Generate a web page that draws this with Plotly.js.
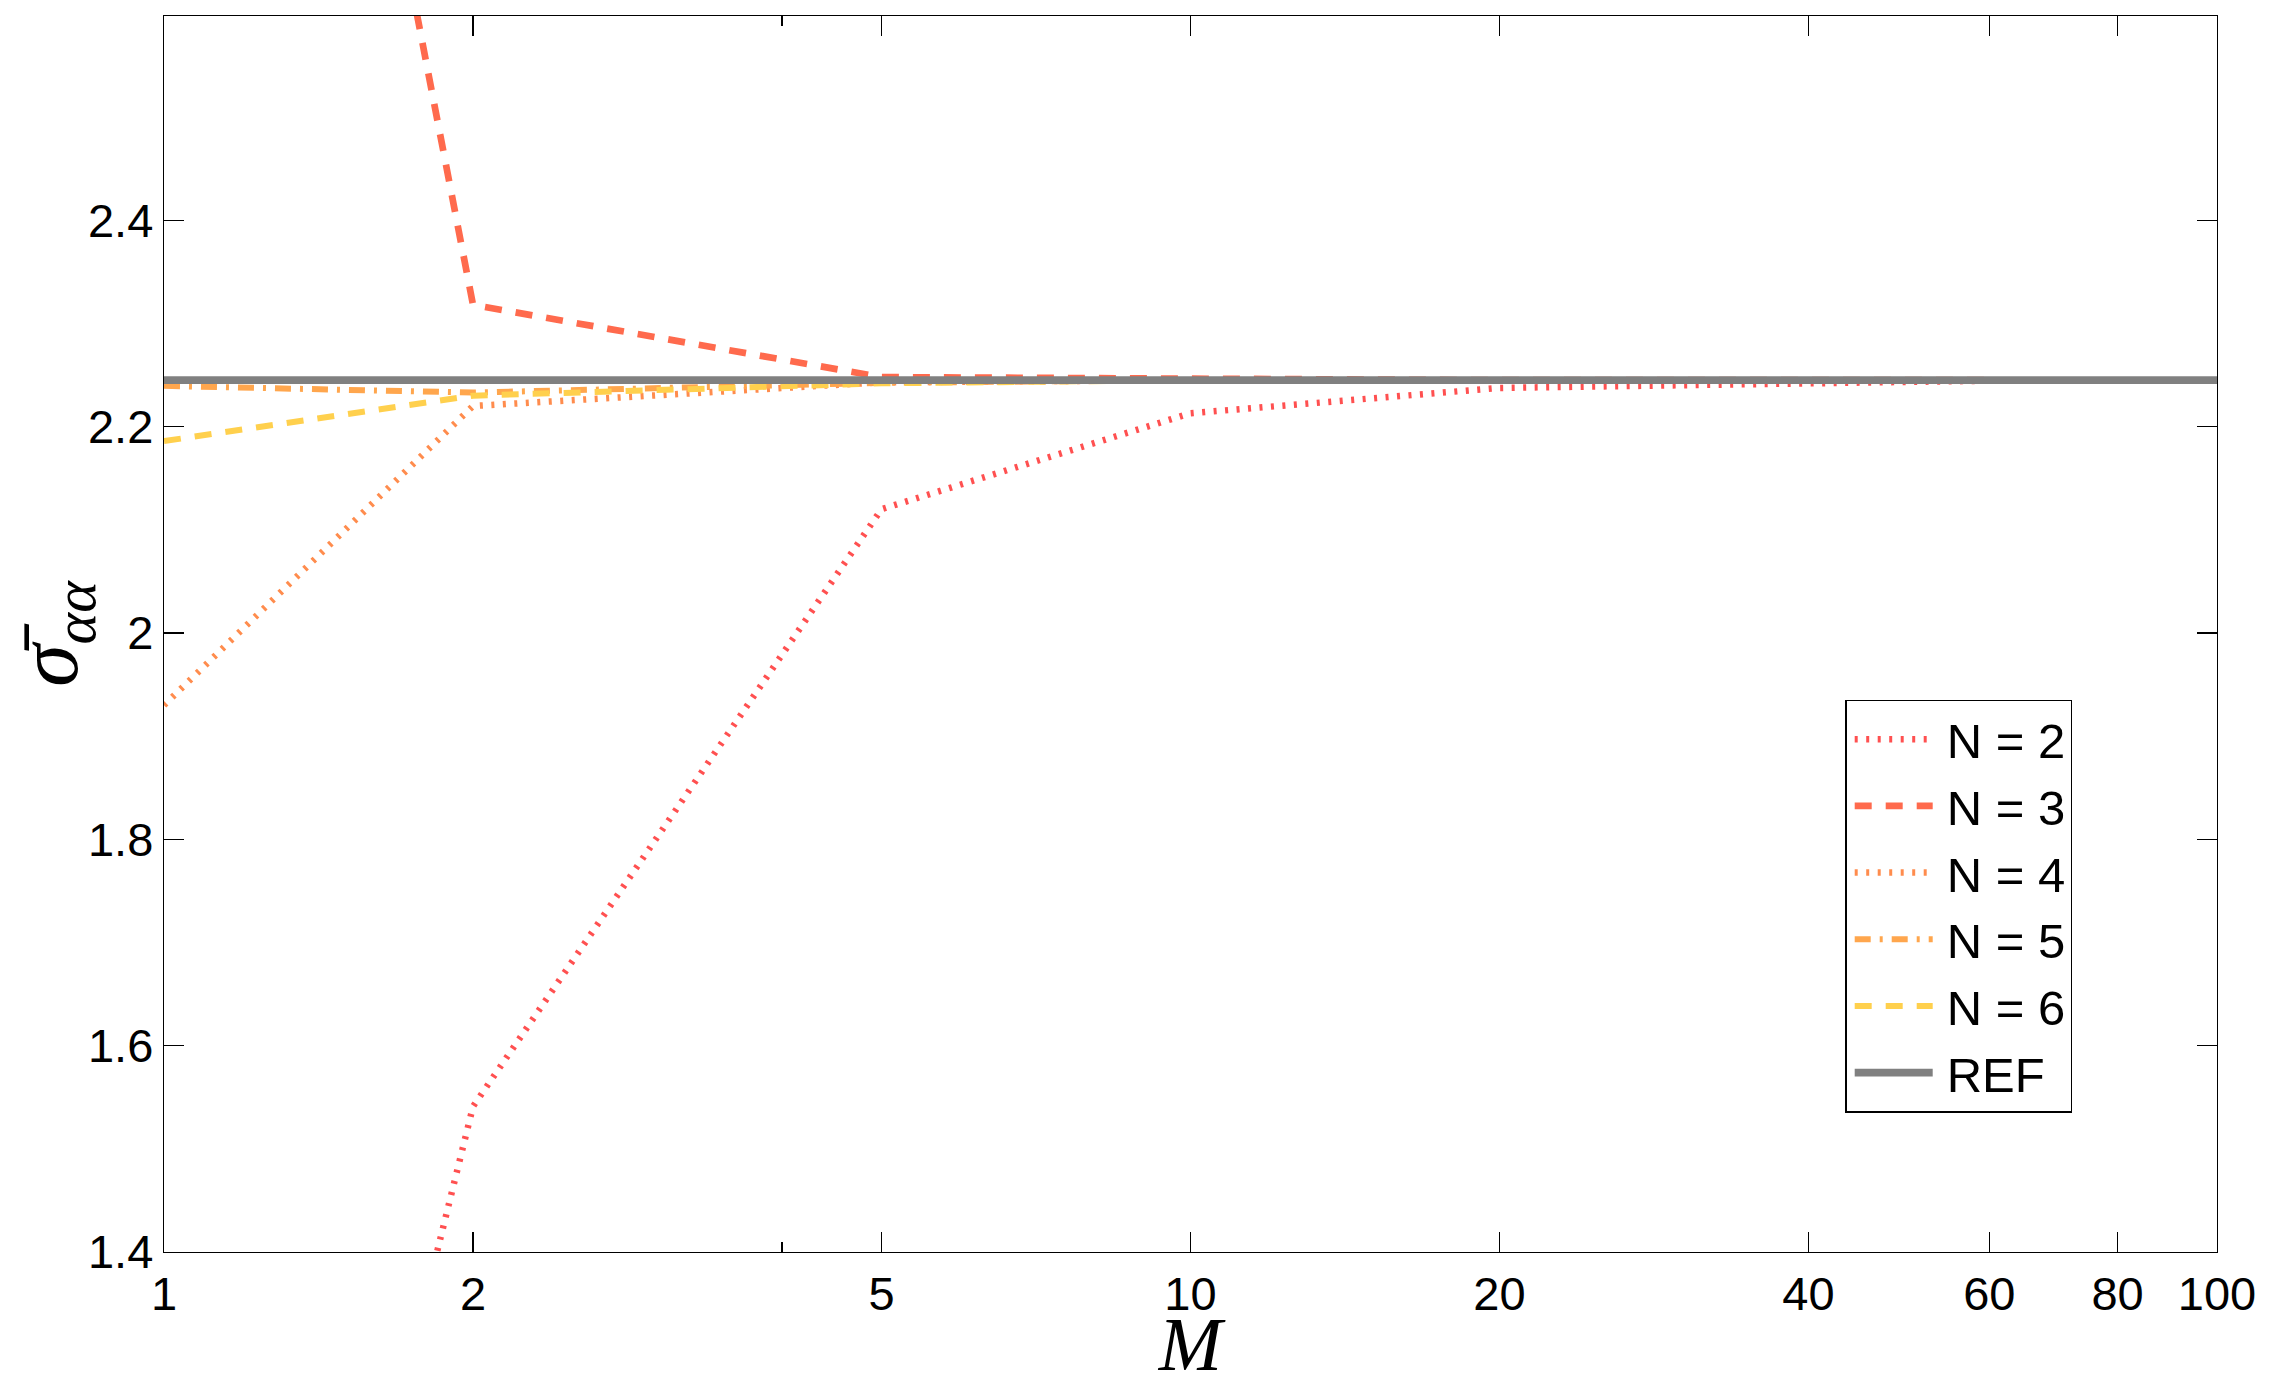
<!DOCTYPE html>
<html>
<head>
<meta charset="utf-8">
<script src="https://cdn.plot.ly/plotly-3.0.1.min.js"></script>
<style>
  html, body { margin: 0; padding: 0; background: #fff; }
  #chart { width: 2280px; height: 1386px; }
</style>
</head>
<body>
<div id="chart"></div>
<script>
// values
var M = [1, 2, 5, 10, 20, 40, 60];
var sigmaN2 = [0.33, 1.541, 2.12, 2.213, 2.2375, 2.2425, 2.2445];
var sigmaN3 = [3.87, 2.318, 2.248, 2.246, 2.245, 2.245, 2.245];
var sigmaN4 = [1.93, 2.22, 2.243, 2.245, 2.245, 2.245, 2.245];
var sigmaN5 = [2.2395, 2.233, 2.2425, 2.245, 2.245, 2.245, 2.245];
var sigmaN6 = [2.186, 2.23, 2.242, 2.245, 2.245, 2.245, 2.245];
var refM = [1, 100];
var refSigma = [2.245, 2.245];

var seriesNames = ['N = 2', 'N = 3', 'N = 4', 'N = 5', 'N = 6'];
var seriesValues = [sigmaN2, sigmaN3, sigmaN4, sigmaN5, sigmaN6];

var xTicks = [1, 2, 5, 10, 20, 40, 60, 80, 100];
var yTicks = [1.4, 1.6, 1.8, 2, 2.2, 2.4];
var yTickText = ['1.4', '1.6', '1.8', '2', '2.2', '2.4'];

var colors = ['#ff5050', '#ff6a4d', '#ff8c4d', '#ffa64d', '#ffd04d'];
var dashes = ['3px,8.5px', '17px,14px', '3px,8.5px', '16px,9px,3px,9px', '17px,14px'];
var widths = [6.5, 6.7, 6.5, 6, 6];

var data = [];
for (var i = 0; i < seriesNames.length; i++) {
  data.push({
    type: 'scatter',
    mode: 'lines',
    name: seriesNames[i],
    x: M,
    y: seriesValues[i],
    line: {color: colors[i], width: widths[i], dash: dashes[i]}
  });
}
data.push({
  type: 'scatter',
  mode: 'lines',
  name: 'REF',
  x: refM,
  y: refSigma,
  line: {color: '#808080', width: 7.7}
});

var tickFont = {family: 'Liberation Sans, Arial, sans-serif', size: 47, color: '#000'};

var layout = {
  width: 2280,
  height: 1386,
  paper_bgcolor: '#fff',
  plot_bgcolor: '#fff',
  margin: {l: 164, r: 63, t: 16, b: 134},
  showlegend: true,
  legend: {
    x: 0.819,
    y: 0.447,
    xanchor: 'left',
    yanchor: 'top',
    bgcolor: '#fff',
    bordercolor: '#000',
    borderwidth: 1.3,
    itemwidth: 90,
    font: {family: 'Liberation Sans, Arial, sans-serif', size: 49, color: '#000'},
    tracegroupgap: 0
  },
  xaxis: {
    type: 'log',
    range: [0, 2],
    tickmode: 'array',
    tickvals: xTicks,
    ticktext: xTicks.map(String),
    ticks: 'inside',
    ticklen: 20,
    tickwidth: 1.2,
    tickcolor: '#000',
    minor: {tickmode: 'array', tickvals: [4], ticks: 'inside', ticklen: 10, tickwidth: 1.2, tickcolor: '#000'},
    showline: true,
    linecolor: '#000',
    linewidth: 1.3,
    mirror: 'ticks',
    showgrid: false,
    zeroline: false,
    tickfont: tickFont,
    title: {
      text: 'M',
      font: {family: 'Liberation Serif, DejaVu Serif, serif', size: 76, style: 'italic', color: '#000'},
      standoff: 4
    }
  },
  yaxis: {
    range: [1.4, 2.598],
    tickmode: 'array',
    tickvals: yTicks,
    ticktext: yTickText,
    ticks: 'inside',
    ticklen: 20,
    tickwidth: 1.2,
    tickcolor: '#000',
    showline: true,
    linecolor: '#000',
    linewidth: 1.3,
    mirror: 'ticks',
    showgrid: false,
    zeroline: false,
    tickfont: tickFont,
    title: {
      text: 'σ\u0304<sub>αα</sub>',
      font: {family: 'Liberation Serif, DejaVu Serif, serif', size: 86, style: 'italic', color: '#000'},
      standoff: 6
    }
  }
};

Plotly.newPlot('chart', data, layout, {displayModeBar: false, staticPlot: true}).then(function(gd) {
  // longer legend samples, as in the original figure
  var paths = gd.querySelectorAll('.legend .legendlines path');
  for (var k = 0; k < paths.length; k++) {
    paths[k].setAttribute('d', 'M8,0h78');
  }
});
</script>
</body>
</html>
